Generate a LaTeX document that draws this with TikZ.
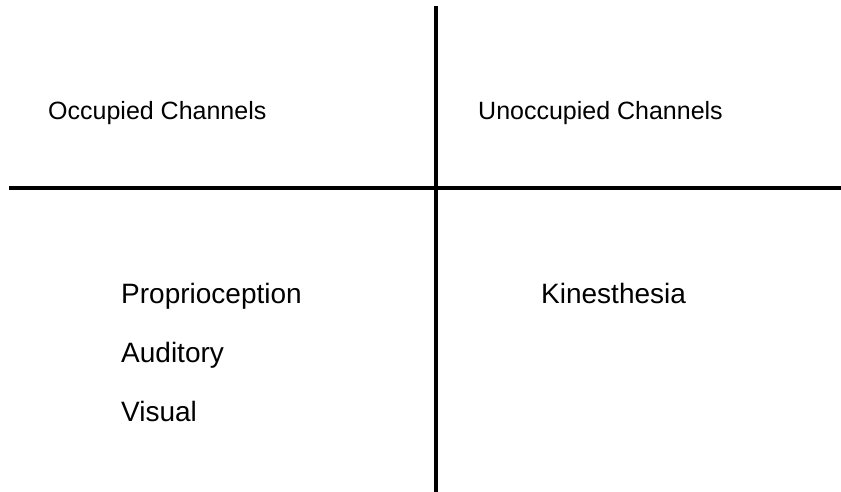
\documentclass[tikz,border=0pt]{standalone}
\usepackage{fontspec}
\setmainfont{Liberation Sans}
\begin{document}
\begin{tikzpicture}[x=1pt, y=1pt,
        head/.style={anchor=base west, inner sep=0pt, font=\fontsize{25}{30}\selectfont},
        item/.style={anchor=base west, inner sep=0pt, font=\fontsize{28}{34}\selectfont},
        rule/.style={line width=3.5pt}]
        \useasboundingbox (0, 0) rectangle (841, 492);
        \coordinate (top) at (436, 486);
        \coordinate (bottom) at (436, 0);
        \coordinate (left) at (9, 304);
        \coordinate (right) at (841, 304);
        \draw[rule] (top) -- (bottom);
        \draw[rule] (left) -- (right);
        \node[head] (occ) at (48, 372) {Occupied Channels};
        \node[head] (unocc) at (478, 372) {Unoccupied Channels};
        \node[item] (prop) at (121, 188) {Proprioception};
        \node[item] (aud) at (121, 129) {Auditory};
        \node[item] (vis) at (121, 70) {Visual};
        \node[item] (kin) at (541, 188) {Kinesthesia};
    \end{tikzpicture}
\end{document}
